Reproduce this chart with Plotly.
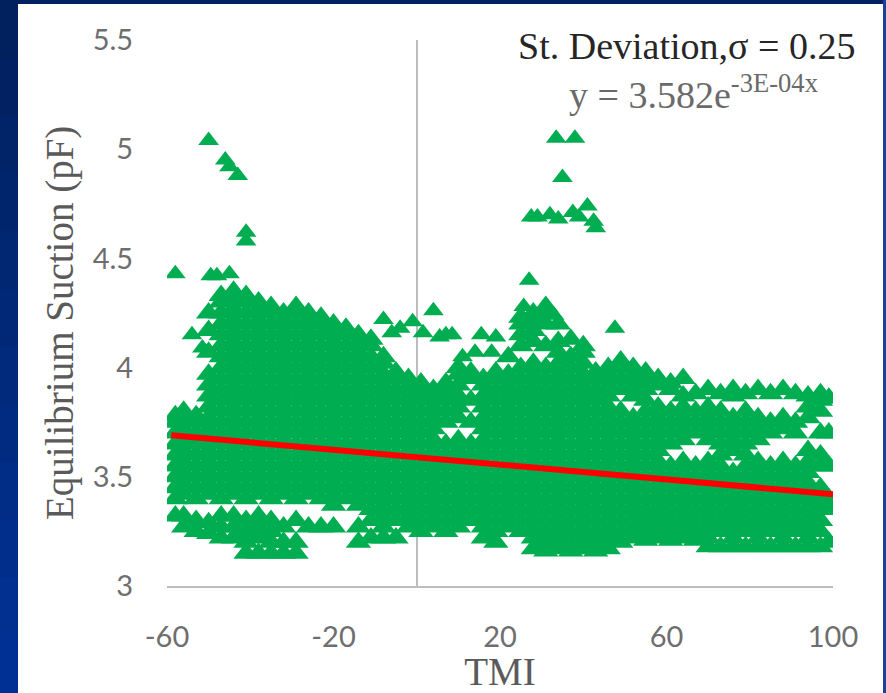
import plotly.graph_objects as go

# TMI position of each column of triangles
column_tmi = [-58,-56,-53,-50,-47,-44,-41,-38,-35,-32,-29,-26,-23,-20,-17,-14,-11,-8,-5,-2,
              1,4,7,10,13,16,19,22,25,28,31,34,37,40,43,46,49,52,55,58,61,64,67,70,73,76,79,
              82,85,88,91,94,97,99]

# Equilibrium suction values read in each column
column_suction = [
 [3.32,3.40,3.45,3.50,3.55,3.60,3.65,3.70,3.75,3.78],
 [3.27,3.32,3.42,3.47,3.52,3.57,3.62,3.67,3.72,3.77,3.80],
 [3.25,3.30,3.40,3.45,3.50,3.55,3.60,3.65,3.70,3.75,3.78],
 [3.24,3.29,3.42,3.47,3.52,3.57,3.62,3.67,3.72,3.77,3.82,3.87,3.92,3.97,4.07,4.17,4.25],
 [3.22,3.27,3.32,3.40,3.45,3.50,3.55,3.60,3.65,3.70,3.75,3.80,3.85,3.90,3.95,4.00,4.05,4.10,4.15,4.20,4.25,4.30,4.33],
 [3.22,3.27,3.32,3.42,3.47,3.52,3.57,3.62,3.67,3.72,3.77,3.82,3.87,3.92,3.97,4.02,4.07,4.12,4.17,4.22,4.27,4.32,4.35],
 [3.15,3.20,3.25,3.30,3.40,3.45,3.50,3.55,3.60,3.65,3.70,3.75,3.80,3.85,3.90,3.95,4.00,4.05,4.10,4.15,4.20,4.25,4.30,4.33],
 [3.15,3.22,3.27,3.32,3.42,3.47,3.52,3.57,3.62,3.67,3.72,3.77,3.82,3.87,3.92,3.97,4.02,4.07,4.12,4.17,4.22,4.27,4.30],
 [3.15,3.20,3.25,3.30,3.40,3.45,3.50,3.55,3.60,3.65,3.70,3.75,3.80,3.85,3.90,3.95,4.00,4.05,4.10,4.15,4.20,4.25,4.28],
 [3.15,3.20,3.27,3.42,3.47,3.52,3.57,3.62,3.67,3.72,3.77,3.82,3.87,3.92,3.97,4.02,4.07,4.12,4.17,4.22,4.25],
 [3.15,3.20,3.30,3.40,3.45,3.50,3.55,3.60,3.65,3.70,3.75,3.80,3.85,3.90,3.95,4.00,4.05,4.10,4.15,4.20,4.25,4.28],
 [3.27,3.42,3.47,3.52,3.57,3.62,3.67,3.72,3.77,3.82,3.87,3.92,3.97,4.02,4.07,4.12,4.17,4.22,4.25],
 [3.27,3.40,3.45,3.50,3.55,3.60,3.65,3.70,3.75,3.80,3.85,3.90,3.95,4.00,4.05,4.10,4.15,4.20,4.23],
 [3.27,3.37,3.42,3.47,3.52,3.57,3.62,3.67,3.72,3.77,3.82,3.87,3.92,3.97,4.02,4.07,4.12,4.17,4.20],
 [3.40,3.45,3.50,3.55,3.60,3.65,3.70,3.75,3.80,3.85,3.90,3.95,4.00,4.05,4.10,4.15,4.18],
 [3.20,3.27,3.37,3.42,3.47,3.52,3.57,3.62,3.67,3.72,3.77,3.82,3.87,3.92,3.97,4.02,4.07,4.12,4.15],
 [3.22,3.30,3.35,3.40,3.45,3.50,3.55,3.60,3.65,3.70,3.75,3.80,3.85,3.90,3.95,4.00,4.05,4.10,4.13],
 [3.22,3.27,3.32,3.37,3.42,3.47,3.52,3.57,3.62,3.67,3.72,3.77,3.82,3.87,3.92,3.97,4.02,4.05],
 [3.22,3.30,3.35,3.40,3.45,3.50,3.55,3.60,3.65,3.70,3.75,3.80,3.85,3.90,3.95,3.98],
 [3.27,3.32,3.37,3.42,3.47,3.52,3.57,3.62,3.67,3.72,3.77,3.82,3.87,3.92,3.95],
 [3.25,3.30,3.35,3.40,3.45,3.50,3.55,3.60,3.65,3.70,3.75,3.80,3.85,3.90,3.93],
 [3.27,3.32,3.37,3.42,3.47,3.52,3.57,3.62,3.67,3.72,3.77,3.82,3.87,3.90],
 [3.25,3.30,3.35,3.40,3.45,3.50,3.55,3.60,3.65,3.75,3.80,3.85,3.90,3.93],
 [3.27,3.32,3.37,3.42,3.47,3.52,3.57,3.62,3.67,3.77,3.82,3.87,3.92,3.97,4.00],
 [3.30,3.35,3.40,3.45,3.50,3.55,3.60,3.65,3.75,3.85,3.95,3.98],
 [3.22,3.27,3.32,3.37,3.42,3.47,3.52,3.57,3.62,3.67,3.72,3.77,3.82,3.87,3.92,3.95],
 [3.20,3.25,3.30,3.35,3.40,3.45,3.50,3.55,3.60,3.65,3.70,3.75,3.80,3.85,3.90,3.95,3.98],
 [3.27,3.32,3.37,3.42,3.47,3.52,3.57,3.62,3.67,3.72,3.77,3.82,3.87,3.92,3.97,4.05],
 [3.25,3.30,3.35,3.40,3.45,3.50,3.55,3.60,3.65,3.70,3.75,3.80,3.85,3.90,3.95,4.00,4.10,4.15,4.20,4.23],
 [3.17,3.22,3.27,3.32,3.37,3.42,3.47,3.52,3.57,3.62,3.67,3.72,3.77,3.82,3.87,3.92,3.97,4.02,4.12,4.17,4.22,4.25],
 [3.16,3.20,3.25,3.30,3.35,3.40,3.45,3.50,3.55,3.60,3.65,3.70,3.75,3.80,3.85,3.90,3.95,4.00,4.10,4.20,4.25,4.28],
 [3.17,3.22,3.27,3.32,3.37,3.42,3.47,3.52,3.57,3.62,3.67,3.72,3.77,3.82,3.87,3.92,3.97,4.02,4.07,4.12,4.20],
 [3.16,3.20,3.25,3.30,3.35,3.40,3.45,3.50,3.55,3.60,3.65,3.70,3.75,3.80,3.85,3.90,3.95,4.00,4.05,4.13],
 [3.17,3.22,3.27,3.32,3.37,3.42,3.47,3.52,3.57,3.62,3.67,3.72,3.77,3.82,3.87,3.92,3.97,4.02,4.07,4.10],
 [3.16,3.20,3.25,3.30,3.35,3.40,3.45,3.50,3.55,3.60,3.65,3.70,3.75,3.80,3.85,3.90,3.95,3.98],
 [3.17,3.22,3.27,3.32,3.37,3.42,3.47,3.52,3.57,3.62,3.67,3.72,3.77,3.82,3.87,3.92,3.97,4.00],
 [3.20,3.25,3.30,3.35,3.40,3.45,3.50,3.55,3.60,3.65,3.70,3.75,3.80,3.90,3.95,4.00,4.03],
 [3.22,3.27,3.32,3.37,3.42,3.47,3.52,3.57,3.62,3.67,3.72,3.77,3.87,3.92,3.97,4.00],
 [3.21,3.25,3.30,3.35,3.40,3.45,3.50,3.55,3.60,3.65,3.70,3.75,3.80,3.85,3.90,3.95,3.98],
 [3.22,3.27,3.32,3.37,3.42,3.47,3.52,3.57,3.62,3.67,3.72,3.77,3.82,3.92,3.95],
 [3.21,3.25,3.30,3.35,3.40,3.45,3.50,3.55,3.65,3.70,3.75,3.80,3.90,3.93],
 [3.22,3.27,3.32,3.37,3.42,3.47,3.52,3.57,3.67,3.72,3.77,3.82,3.87,3.95],
 [3.21,3.25,3.30,3.35,3.40,3.45,3.50,3.55,3.70,3.75,3.80,3.88],
 [3.18,3.22,3.27,3.32,3.37,3.42,3.47,3.52,3.57,3.67,3.72,3.77,3.82,3.90],
 [3.18,3.25,3.30,3.35,3.40,3.45,3.50,3.55,3.60,3.65,3.70,3.75,3.80,3.88],
 [3.18,3.22,3.27,3.32,3.37,3.42,3.47,3.52,3.62,3.67,3.72,3.77,3.87,3.90],
 [3.18,3.25,3.30,3.35,3.40,3.45,3.50,3.55,3.60,3.65,3.70,3.75,3.80,3.88],
 [3.18,3.22,3.27,3.32,3.37,3.42,3.47,3.52,3.57,3.67,3.72,3.77,3.90],
 [3.18,3.25,3.30,3.35,3.40,3.45,3.50,3.55,3.70,3.75,3.88],
 [3.18,3.22,3.27,3.32,3.37,3.42,3.47,3.52,3.57,3.72,3.77,3.90],
 [3.18,3.25,3.30,3.35,3.40,3.45,3.50,3.55,3.70,3.75,3.88],
 [3.18,3.22,3.27,3.32,3.37,3.42,3.47,3.52,3.57,3.62,3.77,3.82,3.87],
 [3.18,3.25,3.30,3.35,3.40,3.45,3.55,3.60,3.70,3.80,3.85,3.88],
 [3.20,3.35,3.40,3.55,3.70,3.86],
]

# Isolated triangles away from the main cloud
outlier_tmi = [-58,-54,-51.5,-50,-49.5,-48,-46,-45,-43,-41,-41,-45,
               -8,-6,-4,-1,1.5,4,5.5,7,8.5,11,14,15.5,18,19,
               27,25.7,33,33.5,35,38,32,29,27.5,34,37.5,39,41,42.5,43,47.6]
outlier_suction = [4.43,4.15,4.09,5.04,4.42,4.42,4.95,4.92,4.88,4.62,4.58,4.43,
                   4.22,4.16,4.18,4.21,4.16,4.26,4.14,4.15,4.15,4.05,4.07,4.15,4.07,4.14,
                   4.40,4.28,4.24,5.05,4.87,5.05,4.70,4.69,4.69,4.68,4.71,4.69,4.74,4.67,4.64,4.18]

trend_tmi = [-59, 100]
trend_suction = [3.69, 3.42]

x_ticks = [-60, -20, 20, 60, 100]
x_tick_labels = ["-60", "-20", "20", "60", "100"]
y_ticks = [3, 3.5, 4, 4.5, 5, 5.5]
y_tick_labels = ["3", "3.5", "4", "4.5", "5", "5.5"]
left_band_colors = ["#01205e","#012163","#012368","#01256d","#012672","#012877",
                    "#012a7c","#012b81","#012d86","#012e8b","#013090","#013095"]

points_x, points_y = [], []
for tmi, values in zip(column_tmi, column_suction):
    for value in values:
        points_x.append(tmi)
        points_y.append(value)

GREEN = "#00ad50"
fig = go.Figure()
fig.add_trace(go.Scatter(x=points_x, y=points_y, mode="markers", showlegend=False,
                         marker=dict(symbol="triangle-up", size=22, color=GREEN, line=dict(width=0))))
fig.add_trace(go.Scatter(x=outlier_tmi, y=outlier_suction, mode="markers", showlegend=False,
                         marker=dict(symbol="triangle-up", size=18, color=GREEN, line=dict(width=0))))
fig.add_trace(go.Scatter(x=trend_tmi, y=trend_suction, mode="lines", showlegend=False,
                         line=dict(color="#ff0000", width=6)))

W, H = 886, 693
L, R, T, B = 167, 53, 40, 107
def px(v): return (v - L) / (W - L - R)
def py(v): return (H - B - v) / (H - T - B)

shapes = [
    dict(type="rect", xref="paper", yref="paper", x0=px(0), x1=px(W), y0=py(4), y1=py(0),
         fillcolor="#012060", line_width=0, layer="below"),
    dict(type="rect", xref="paper", yref="paper", x0=px(883), x1=px(W), y0=py(H), y1=py(0),
         fillcolor="#1c3f9c", line_width=0, layer="below"),
]
n = len(left_band_colors)
for i, c in enumerate(left_band_colors):
    shapes.append(dict(type="rect", xref="paper", yref="paper", x0=px(0), x1=px(18),
                       y0=py(H * (i + 1) / n + 1), y1=py(H * i / n), fillcolor=c, line_width=0, layer="below"))

fig.update_layout(
    width=W, height=H, margin=dict(l=L, r=R, t=T, b=B, autoexpand=False),
    paper_bgcolor="#ffffff", plot_bgcolor="rgba(0,0,0,0)", showlegend=False, shapes=shapes,
    xaxis=dict(range=[-60, 100], tickvals=x_ticks, ticktext=x_tick_labels, showgrid=False, zeroline=True,
               zerolinecolor="#bdbdbd", zerolinewidth=1.5, showline=True, linecolor="#bdbdbd", linewidth=2,
               ticks="outside", ticklen=24, tickcolor="rgba(0,0,0,0)",
               tickfont=dict(family="Lato", size=29, color="#6e6e6e"),
               title=dict(text="TMI", font=dict(family="Liberation Serif", size=39, color="#5a5a5a"), standoff=0)),
    yaxis=dict(range=[3, 5.5], tickvals=y_ticks, ticktext=y_tick_labels, showgrid=False, zeroline=False,
               showline=False, ticks="outside", ticklen=27, tickcolor="rgba(0,0,0,0)",
               tickfont=dict(family="Lato", size=29, color="#6e6e6e")),
    annotations=[
        dict(text="Equilibrium Suction (pF)", xref="paper", yref="paper", x=px(60), y=py(323), showarrow=False,
             textangle=-90, xanchor="center", yanchor="middle",
             font=dict(family="Liberation Serif", size=39, color="#5a5a5a")),
        dict(text="St. Deviation,σ = 0.25", xref="paper", yref="paper", x=px(686), y=py(46), showarrow=False,
             xanchor="center", yanchor="middle", font=dict(family="Liberation Serif", size=38, color="#262626")),
        dict(text="y = 3.582e<sup>-3E-04x</sup>", xref="paper", yref="paper", x=px(693), y=py(92), showarrow=False,
             xanchor="center", yanchor="middle", font=dict(family="Liberation Serif", size=38, color="#6a6a6a")),
    ],
)
fig.write_html("out.html", config={"displayModeBar": False}, post_script="document.body.style.margin='0';")
